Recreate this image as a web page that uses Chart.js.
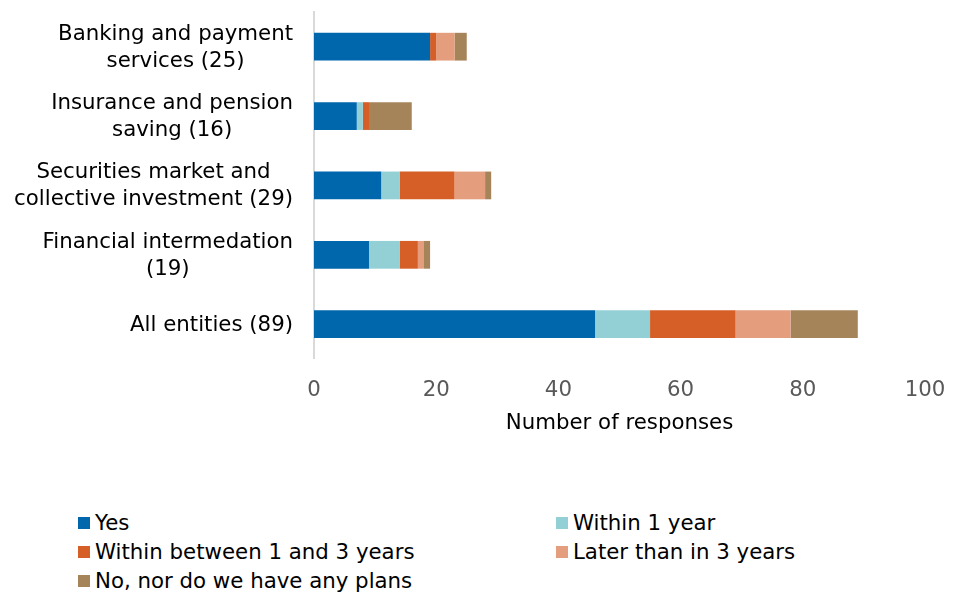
<!DOCTYPE html>
<html>
<head>
<meta charset="utf-8">
<script src="https://cdn.jsdelivr.net/npm/chart.js@4"></script>
<style>
  body { margin: 0; background: #fff; font-family: "DejaVu Sans", Verdana, sans-serif; }
  #wrap { position: relative; width: 956px; height: 592px; }
  #box { position: absolute; left: 0; top: 0; width: 956px; height: 437px; }
  #legend { position: absolute; left: 78px; top: 508px; width: 860px; font-size: 21.3px; color: #000; }
  .item { position: absolute; display: flex; align-items: center; white-space: nowrap; height: 29px; }
  .item span.sw { width: 12px; height: 12px; margin-right: 5px; display: inline-block; }
</style>
</head>
<body>
<div id="wrap">
  <div id="box"><canvas id="grafico"></canvas></div>
  <div id="legend"></div>
</div>
<script>
const categorias = [
  ["Banking and payment", "services (25)"],
  ["Insurance and pension", "saving (16)"],
  ["Securities market and", "collective investment (29)"],
  ["Financial intermedation", "(19)"],
  ["All entities (89)"]
];
const sim = [19, 7, 11, 9, 46];
const dentro1ano = [0, 1, 3, 5, 9];
const entre1e3 = [1, 1, 9, 3, 14];
const depois3 = [3, 0, 5, 1, 9];
const semPlanos = [2, 7, 1, 1, 11];
const ticksX = [0, 20, 40, 60, 80, 100];

const series = [
  { label: "Yes", data: sim, color: "#0067ac" },
  { label: "Within 1 year", data: dentro1ano, color: "#93d0d6" },
  { label: "Within between 1 and 3 years", data: entre1e3, color: "#d55f27" },
  { label: "Later than in 3 years", data: depois3, color: "#e49d7d" },
  { label: "No, nor do we have any plans", data: semPlanos, color: "#a6845a" }
];

const fonte = "DejaVu Sans";
const tamanho = 21.3;

// rótulos do eixo y: bloco alinhado à direita, linhas centradas entre si
const rotulosY = {
  id: "rotulosY",
  afterDraw(chart) {
    const ctx = chart.ctx;
    const y = chart.scales.y;
    const direita = 293;
    const alturaLinha = 27;
    ctx.save();
    ctx.font = tamanho + "px " + fonte;
    ctx.fillStyle = "#000";
    ctx.textAlign = "center";
    ctx.textBaseline = "middle";
    categorias.forEach((linhas, i) => {
      const centro = y.getPixelForValue(i) + 1;
      const largura = Math.max(...linhas.map(l => ctx.measureText(l).width));
      const cx = direita - largura / 2;
      const inicio = centro - (linhas.length - 1) * alturaLinha / 2;
      linhas.forEach((l, k) => ctx.fillText(l, cx, inicio + k * alturaLinha));
    });
    ctx.restore();
  }
};

const canvas = document.getElementById("grafico");

new Chart(canvas, {
  type: "bar",
  data: {
    labels: categorias,
    datasets: series.map(s => ({
      label: s.label,
      data: s.data,
      backgroundColor: s.color,
      borderWidth: 0,
      categoryPercentage: 0.8,
      barPercentage: 0.5
    }))
  },
  options: {
    indexAxis: "y",
    responsive: true,
    maintainAspectRatio: false,
    animation: false,
    layout: { padding: { top: 12, right: 31, bottom: 0, left: 0 } },
    plugins: {
      legend: { display: false },
      tooltip: { enabled: false }
    },
    scales: {
      x: {
        stacked: true,
        min: 0,
        max: 100,
        afterBuildTicks: scale => { scale.ticks = ticksX.map(v => ({ value: v })); },
        grid: { display: false, drawTicks: true, tickLength: 12 },
        border: { display: false },
        ticks: { color: "#595959", font: { family: fonte, size: tamanho }, padding: 7 },
        title: {
          display: true,
          text: "Number of responses",
          color: "#000",
          font: { family: fonte, size: tamanho },
          padding: { top: 0, bottom: 1 }
        }
      },
      y: {
        stacked: true,
        grid: { display: false },
        border: { display: true, color: "#d9d9d9", width: 2 },
        ticks: { display: false },
        afterFit: scale => { scale.width = 314; }
      }
    }
  },
  plugins: [rotulosY]
});

// legenda em duas colunas
const legenda = document.getElementById("legend");
series.forEach((s, i) => {
  const item = document.createElement("div");
  item.className = "item";
  item.style.left = (i % 2 === 0 ? 0 : 478) + "px";
  item.style.top = (Math.floor(i / 2) * 29) + "px";
  item.innerHTML = '<span class="sw" style="background:' + s.color + '"></span>' + s.label;
  legenda.appendChild(item);
});
</script>
</body>
</html>
